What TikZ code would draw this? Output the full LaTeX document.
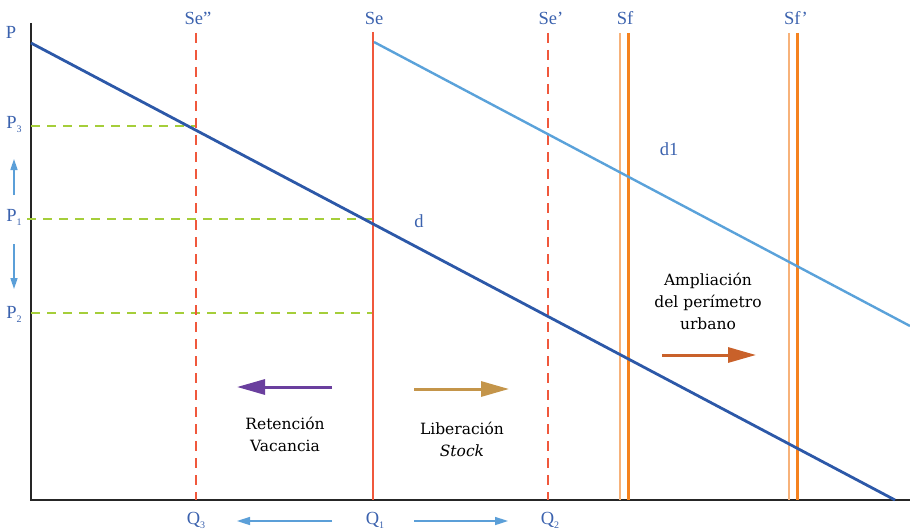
\documentclass[tikz,border=0pt]{standalone}
\usepackage{fontspec}
\setmainfont{DejaVu Serif}
\newfontfamily\lblfont{Liberation Serif}
\usetikzlibrary{arrows.meta}
\definecolor{lblblue}{HTML}{3B62AE}
\definecolor{dblue}{HTML}{2C58A8}
\definecolor{lblue}{HTML}{5AA2DA}
\definecolor{sered}{HTML}{F0583C}
\definecolor{sforange}{HTML}{F5821F}
\definecolor{sflight}{HTML}{F7B27A}
\definecolor{pgreen}{HTML}{A5CE3A}
\definecolor{apurple}{HTML}{6A3F9E}
\definecolor{atan}{HTML}{C4954A}
\definecolor{aorange}{HTML}{C9612A}
\definecolor{qarrow}{HTML}{5B9FD8}
\tikzset{
  lbl/.style={text=lblblue, font=\lblfont\fontsize{18.5}{20}\selectfont, inner sep=0pt},
  desc/.style={text=black, font=\fontsize{15.5}{22}\selectfont, align=center, inner sep=0pt},
  axisline/.style={line width=1.6pt, draw=black!85},
  pline/.style={draw=pgreen, line width=2.6pt, dash pattern=on 9pt off 7pt},
  sedash/.style={draw=sered, line width=2.6pt, dash pattern=on 10pt off 7pt},
  sesolid/.style={draw=sered, line width=2.8pt},
  sfthin/.style={draw=sflight, line width=1.4pt},
  sfthick/.style={draw=sforange, line width=3pt},
  bigarrow/.style={line width=3pt, -{Triangle[length=28pt,width=15pt]}},
  smallarrow/.style={draw=qarrow, line width=1.6pt, -{Triangle[length=13pt,width=8pt]}}
}
\begin{document}
\begin{tikzpicture}[x=1pt,y=-1pt]
\useasboundingbox (0,0) rectangle (910,532);
% axes
\coordinate (origin) at (31,500);
\coordinate (ytop) at (31,23);
\coordinate (xend) at (910,500);
\draw[axisline] (ytop) -- (origin) -- (xend);
% price dashed lines
\coordinate (p3a) at (31,126); \coordinate (p3b) at (196,126);
\coordinate (p1a) at (27,219); \coordinate (p1b) at (373,219);
\coordinate (p2a) at (31,313); \coordinate (p2b) at (373,313);
\draw[pline] (p3a) -- (p3b);
\draw[pline] (p1a) -- (p1b);
\draw[pline] (p2a) -- (p2b);
% supply lines
\coordinate (sesta) at (196,33); \coordinate (sesb) at (196,500);
\coordinate (sea) at (373,32); \coordinate (seb) at (373,500);
\coordinate (sepa) at (548,33); \coordinate (sepb) at (548,500);
\draw[sedash] (sesta) -- (sesb);
\draw[sedash] (sepa) -- (sepb);
\draw[sesolid] (sea) -- (seb);
\coordinate (sf1a) at (620,33); \coordinate (sf1b) at (620,500);
\coordinate (sf2a) at (628,33); \coordinate (sf2b) at (628,500);
\coordinate (sf3a) at (789,33); \coordinate (sf3b) at (789,500);
\coordinate (sf4a) at (797,33); \coordinate (sf4b) at (797,500);
\draw[sfthin] (sf1a) -- (sf1b);
\draw[sfthick] (sf2a) -- (sf2b);
\draw[sfthin] (sf3a) -- (sf3b);
\draw[sfthick] (sf4a) -- (sf4b);
% demand curves
\coordinate (da) at (31,43); \coordinate (db) at (895,500);
\coordinate (d1a) at (374,42); \coordinate (d1b) at (910,326);
\draw[dblue, line width=2.8pt] (da) -- (db);
\draw[lblue, line width=2.4pt] (d1a) -- (d1b);
% top labels
\node[lbl] (lsess) at (198,18) {Se”};
\node[lbl] (lse) at (374,18) {Se};
\node[lbl] (lsep) at (551,18) {Se’};
\node[lbl] (lsf) at (625,18) {Sf};
\node[lbl] (lsfp) at (796,18) {Sf’};
% P labels
\node[lbl] (lp) at (11,32) {P};
\node[lbl] (lp3) at (14,124) {P\raisebox{-4pt}{\fontsize{10}{10}\selectfont 3}};
\node[lbl] (lp1) at (14,217) {P\raisebox{-4pt}{\fontsize{10}{10}\selectfont 1}};
\node[lbl] (lp2) at (14,314) {P\raisebox{-4pt}{\fontsize{10}{10}\selectfont 2}};
% Q labels
\node[lbl] (lq3) at (196,520) {Q\raisebox{-4pt}{\fontsize{10}{10}\selectfont 3}};
\node[lbl] (lq1) at (375,520) {Q\raisebox{-4pt}{\fontsize{10}{10}\selectfont 1}};
\node[lbl] (lq2) at (550,520) {Q\raisebox{-4pt}{\fontsize{10}{10}\selectfont 2}};
% curve labels
\node[lbl] (ld) at (419,221) {d};
\node[lbl] (ld1) at (669,149) {d1};
% small blue arrows
\coordinate (upa) at (14,195); \coordinate (upb) at (14,159);
\coordinate (dna) at (14,244); \coordinate (dnb) at (14,289);
\draw[smallarrow, -{Triangle[length=11pt,width=7pt]}] (upa) -- (upb);
\draw[smallarrow, -{Triangle[length=11pt,width=7pt]}] (dna) -- (dnb);
\coordinate (qla) at (332,521); \coordinate (qlb) at (237,521);
\coordinate (qra) at (414,521); \coordinate (qrb) at (508,521);
\draw[smallarrow] (qla) -- (qlb);
\draw[smallarrow] (qra) -- (qrb);
% big arrows
\coordinate (pa) at (332,387); \coordinate (pb) at (237,387);
\coordinate (ta) at (414,389); \coordinate (tb) at (509,389);
\coordinate (oa) at (662,355); \coordinate (ob) at (756,355);
\draw[bigarrow, draw=apurple, fill=apurple] (pa) -- (pb);
\draw[bigarrow, draw=atan, fill=atan] (ta) -- (tb);
\draw[bigarrow, draw=aorange, fill=aorange] (oa) -- (ob);
% descriptions
\node[desc] (ret) at (285,434) {Retención\\Vacancia};
\node[desc] (lib) at (462,439) {Liberación\\\textit{Stock}};
\node[desc] (amp) at (708,301) {Ampliación\\del perímetro\\urbano};
\end{tikzpicture}
\end{document}
